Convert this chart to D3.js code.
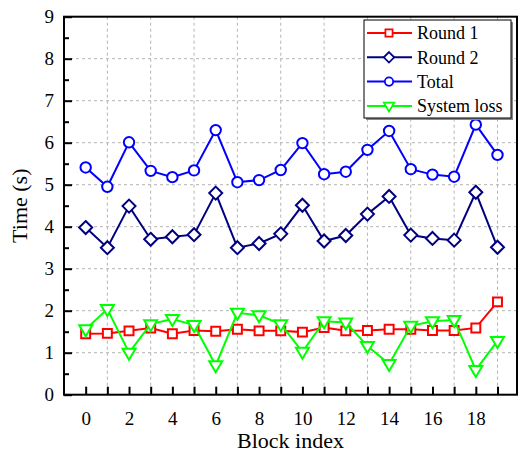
<!DOCTYPE html>
<html>
<head>
<meta charset="utf-8">
<script src="https://cdn.jsdelivr.net/npm/d3@7"></script>
<style>
body{margin:0;background:#fff}
</style>
</head>
<body>
<svg width="519" height="457"></svg>
<script>
var blocks = d3.range(0, 20)
var round1 = [1.45,1.46,1.52,1.59,1.45,1.53,1.51,1.56,1.52,1.52,1.49,1.60,1.52,1.53,1.56,1.56,1.53,1.53,1.59,2.21]
var round2 = [3.98,3.50,4.49,3.70,3.76,3.81,4.80,3.50,3.60,3.83,4.51,3.66,3.79,4.30,4.72,3.80,3.72,3.68,4.82,3.51]
var total = [5.41,4.95,6.01,5.33,5.18,5.34,6.30,5.06,5.11,5.35,5.99,5.25,5.31,5.83,6.28,5.37,5.24,5.19,6.43,5.71]
var sysloss = [1.56,2.04,1.00,1.68,1.80,1.66,0.70,1.95,1.89,1.68,1.02,1.75,1.72,1.16,0.73,1.64,1.75,1.78,0.59,1.28]
var xTicks = [0,2,4,6,8,10,12,14,16,18]
var yTicks = [0,1,2,3,4,5,6,7,8,9]

var series = [
  {name:'Round 1', values:round1, color:'#ff0000', marker:'square'},
  {name:'Round 2', values:round2, color:'#000080', marker:'diamond'},
  {name:'Total', values:total, color:'#0000ff', marker:'circle'},
  {name:'System loss', values:sysloss, color:'#00ff00', marker:'triangle'}
]

var serif = '"Liberation Serif", "DejaVu Serif", serif'
var svg = d3.select('svg')
var pLeft = 64, pRight = 517, pTop = 16.7, pBottom = 394.7

var x = d3.scaleLinear().domain([-1, 19.9]).range([pLeft, pRight])
var y = d3.scaleLinear().domain([0, 9]).range([pBottom, pTop])

// grid (vertical ones sit on odd indices)
svg.append('g').selectAll('line')
    .data(d3.range(1, 20, 2))
    .enter().append('line')
    .attr('x1', function(d){ return x(d) }).attr('x2', function(d){ return x(d) })
    .attr('y1', pTop).attr('y2', pBottom)
    .attr('stroke', '#b4b4b4').attr('stroke-dasharray', '3,3')
svg.append('g').selectAll('line')
    .data(d3.range(1, 9))
    .enter().append('line')
    .attr('y1', function(d){ return y(d) }).attr('y2', function(d){ return y(d) })
    .attr('x1', pLeft).attr('x2', pRight)
    .attr('stroke', '#b4b4b4').attr('stroke-dasharray', '3,3')

// axes
var xAxis = d3.axisBottom(x).tickValues(d3.range(0, 20)).tickSize(-8).tickPadding(17)
    .tickFormat(function(d){ return xTicks.indexOf(d) >= 0 ? d : '' })
var gx = svg.append('g').attr('transform', 'translate(0,' + pBottom + ')').call(xAxis)
gx.select('.domain').remove()
gx.selectAll('.tick line').attr('stroke-width', 2)
gx.selectAll('text').style('font-size', '19px').style('font-family', serif)

var yAxis = d3.axisLeft(y).tickValues(d3.range(0, 9.01, 0.5)).tickSize(0).tickPadding(10)
    .tickFormat(function(d){ return yTicks.indexOf(d) >= 0 ? d : '' })
var gy = svg.append('g').attr('transform', 'translate(' + pLeft + ',0)').call(yAxis)
gy.select('.domain').remove()
gy.selectAll('.tick line').attr('x2', function(d){ return d % 1 === 0 ? 8 : 5 }).attr('stroke-width', 2)
gy.selectAll('text').style('font-size', '19px').style('font-family', serif)

// frame
svg.append('rect').attr('x', pLeft).attr('y', pTop)
    .attr('width', pRight - pLeft).attr('height', pBottom - pTop)
    .attr('fill', 'none').attr('stroke', '#000').attr('stroke-width', 2)

function markerPath(type) {
  if (type === 'square') return d3.symbol(d3.symbolSquare, 80)()
  if (type === 'circle') return d3.symbol(d3.symbolCircle, 85)()
  if (type === 'diamond') return 'M0,-6.5L6.5,0L0,6.5L-6.5,0Z'
  return 'M-6.5,-4L6.5,-4L0,7Z'
}

var line = d3.line()
    .x(function(d, i){ return x(blocks[i]) })
    .y(function(d){ return y(d) })

series.forEach(function(s) {
  svg.append('path').datum(s.values)
      .attr('d', line).attr('fill', 'none')
      .attr('stroke', s.color).attr('stroke-width', 2)
  svg.append('g').selectAll('path')
      .data(s.values)
      .enter().append('path')
      .attr('d', markerPath(s.marker))
      .attr('transform', function(d, i){ return 'translate(' + x(blocks[i]) + ',' + y(d) + ')' })
      .attr('fill', '#fff').attr('stroke', s.color).attr('stroke-width', 2)
})

// legend
var lg = svg.append('g').attr('transform', 'translate(364,20)')
lg.append('rect').attr('x', 2).attr('y', 2).attr('width', 147).attr('height', 98).attr('fill', '#888')
lg.append('rect').attr('width', 147).attr('height', 98).attr('fill', '#fff').attr('stroke', '#000').attr('stroke-width', 1)
var items = lg.selectAll('.item').data(series).enter().append('g')
    .attr('transform', function(d, i){ return 'translate(0,' + (13 + i * 24.3) + ')' })
items.append('line').attr('x1', 3).attr('x2', 48).attr('stroke', function(d){ return d.color }).attr('stroke-width', 2)
items.append('path').attr('d', function(d){ return markerPath(d.marker) })
    .attr('transform', 'translate(25,0) scale(0.8)')
    .attr('fill', '#fff').attr('stroke', function(d){ return d.color }).attr('stroke-width', 2.2)
items.append('text').attr('x', 53).attr('dy', '0.35em')
    .style('font-size', '18px').style('font-family', serif)
    .text(function(d){ return d.name })

// titles
svg.append('text').attr('x', (pLeft + pRight) / 2).attr('y', 448)
    .attr('text-anchor', 'middle').style('font-size', '22px').style('font-family', serif)
    .text('Block index')
svg.append('text').attr('transform', 'translate(27,' + ((pTop + pBottom) / 2) + ') rotate(-90)')
    .attr('text-anchor', 'middle').style('font-size', '22px').style('font-family', serif)
    .text('Time (s)')
</script>
</body>
</html>
